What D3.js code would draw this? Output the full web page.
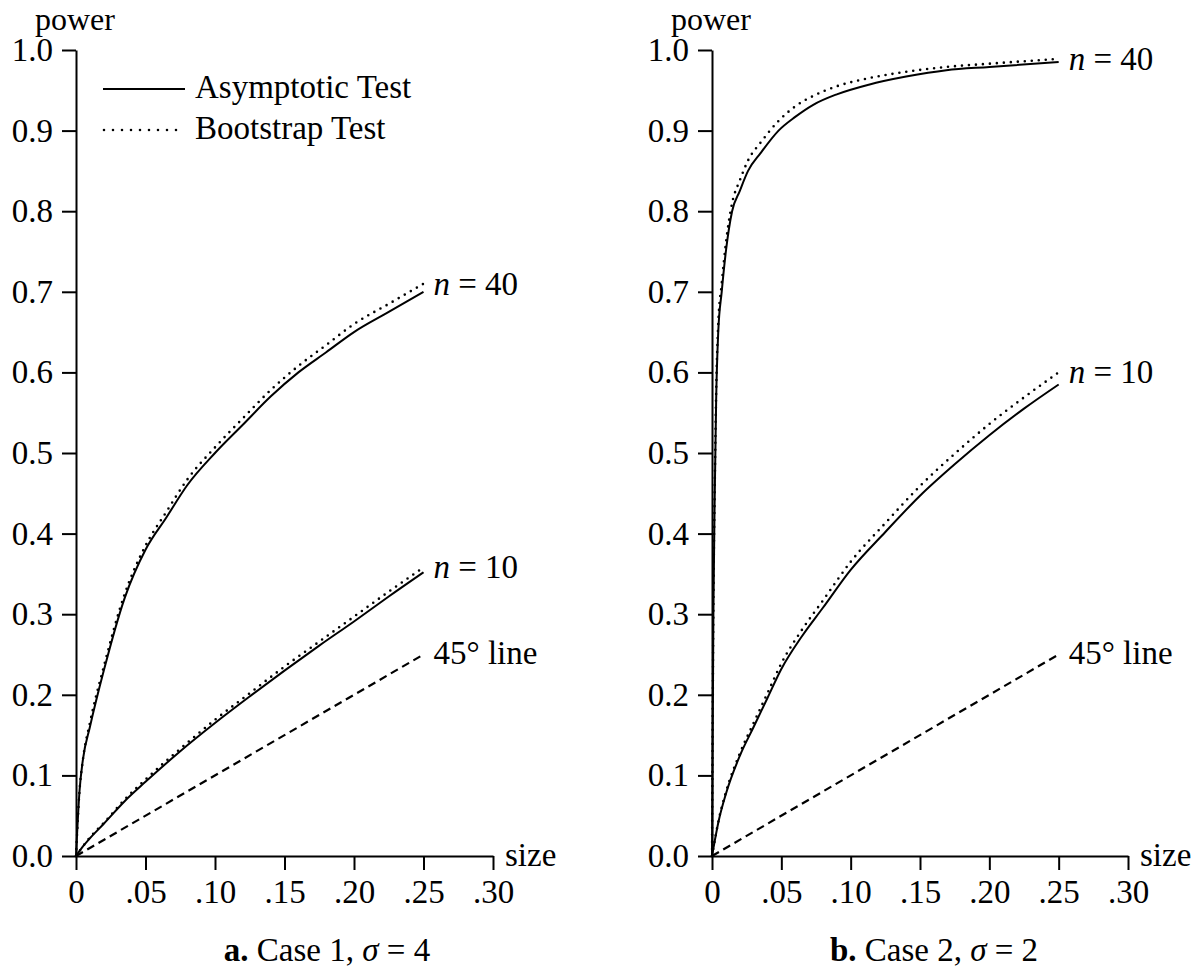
<!DOCTYPE html>
<html>
<head>
<meta charset="utf-8">
<script src="https://cdn.jsdelivr.net/npm/d3@7"></script>
<style>
  body { margin: 0; background: #fff; }
  text { font-family: "Liberation Serif", "Times New Roman", serif; fill: #000; }
</style>
</head>
<body>
<script>
// axis ticks
var yTicks = [0, 0.1, 0.2, 0.3, 0.4, 0.5, 0.6, 0.7, 0.8, 0.9, 1.0];
var yTickLabels = ["0.0", "0.1", "0.2", "0.3", "0.4", "0.5", "0.6", "0.7", "0.8", "0.9", "1.0"];
var xTicks = [0, 0.05, 0.10, 0.15, 0.20, 0.25, 0.30];
var xTickLabels = ["0", ".05", ".10", ".15", ".20", ".25", ".30"];

// panel a: case 1, sigma = 4
var a40Size = [0, .0025, .005, .01, .02, .035, .05, .065, .08, .10, .12, .14, .16, .18, .20, .225, .25];
var a40Asym = [0, .08, .12, .16, .23, .32, .38, .42, .46, .50, .535, .57, .60, .625, .65, .675, .70];
var a40Boot = [0, .08, .12, .165, .235, .325, .385, .427, .467, .507, .543, .578, .608, .634, .66, .685, .71];

var a10Size = [0, .005, .01, .02, .035, .05, .075, .10, .125, .15, .175, .20, .225, .25];
var a10Asym = [0, .012, .022, .04, .068, .092, .13, .165, .198, .23, .261, .291, .322, .352];
var a10Boot = [0, .012, .023, .041, .07, .095, .133, .169, .202, .235, .266, .297, .328, .358];

// panel b: case 2, sigma = 2
var b40Size = [0, .001, .002, .003, .0045, .007, .01, .0145, .02, .026, .035, .048, .06, .073, .09, .113, .14, .169, .20, .25];
var b40Asym = [0, .30, .45, .566, .65, .70, .75, .80, .825, .85, .872, .90, .917, .932, .945, .957, .967, .975, .979, .985];
var b40Boot = [0, .31, .46, .575, .66, .71, .76, .81, .838, .863, .885, .912, .93, .943, .955, .965, .973, .979, .983, .989];

var b10Size = [0, .005, .01, .02, .03, .04, .05, .065, .08, .10, .125, .15, .175, .20, .225, .25];
var b10Asym = [0, .045, .077, .124, .16, .196, .232, .273, .308, .355, .402, .447, .486, .522, .555, .585];
var b10Boot = [0, .046, .079, .127, .165, .202, .239, .281, .317, .365, .413, .459, .499, .536, .569, .60];

// 45 degree reference line
var diagSize = [0, 0.25];
var diagPower = [0, 0.25];

var fontSize = 33;

var svg = d3.select("body").append("svg")
  .attr("width", 1203)
  .attr("height", 972);

function zip(xs, ys) {
  return xs.map(function(d, i) { return {s: d, p: ys[i]}; });
}

function drawPanel(p) {
  var x = d3.scaleLinear().domain([0, 0.30]).range([p.left, p.right]);
  var y = d3.scaleLinear().domain([0, 1]).range([856, 50]);

  var line = d3.line()
    .x(function(d) { return x(d.s); })
    .y(function(d) { return y(d.p); })
    .curve(d3.curveMonotoneX);

  var g = svg.append("g");

  //y axis
  var ya = g.append("g")
    .attr("transform", "translate(" + p.left + ",0)")
    .call(d3.axisLeft(y).tickValues(yTicks)
      .tickFormat(function(d, i) { return yTickLabels[i]; })
      .tickSizeInner(14).tickSizeOuter(0).tickPadding(9));

  //x axis
  var xa = g.append("g")
    .attr("transform", "translate(0," + y(0) + ")")
    .call(d3.axisBottom(x).tickValues(xTicks)
      .tickFormat(function(d, i) { return xTickLabels[i]; })
      .tickSizeInner(14).tickSizeOuter(0).tickPadding(10));

  [ya, xa].forEach(function(a) {
    a.attr("font-family", null).attr("font-size", null);
    a.selectAll("path, line").attr("stroke", "#000").attr("stroke-width", 2);
    a.selectAll("text").style("font-size", fontSize + "px");
  });

  g.append("text")
    .attr("x", p.left - 41)
    .attr("y", 30)
    .style("font-size", (fontSize - 1) + "px")
    .text("power");

  g.append("text")
    .attr("x", p.right + 12)
    .attr("y", y(0) + 10)
    .style("font-size", fontSize + "px")
    .text("size");

  //45 degree line
  g.append("path")
    .datum(zip(diagSize, diagPower))
    .attr("fill", "none")
    .attr("stroke", "#000")
    .attr("stroke-width", 2.2)
    .attr("stroke-dasharray", "8,5")
    .attr("d", line);

  p.curves.forEach(function(c) {
    g.append("path")
      .datum(zip(c.size, c.asym))
      .attr("fill", "none")
      .attr("stroke", "#000")
      .attr("stroke-width", 2)
      .attr("d", line);
    g.append("path")
      .datum(zip(c.size, c.boot))
      .attr("fill", "none")
      .attr("stroke", "#000")
      .attr("stroke-width", 2.6)
      .attr("stroke-linecap", "round")
      .attr("stroke-dasharray", "0,7")
      .attr("d", line);

    var last = c.size.length - 1;
    var t = g.append("text")
      .attr("x", x(c.size[last]) + 10)
      .attr("y", y(c.boot[last]) + 11)
      .style("font-size", fontSize + "px");
    t.append("tspan").style("font-style", "italic").text("n");
    t.append("tspan").text(" = " + c.n);
  });

  var last45 = diagSize.length - 1;
  g.append("text")
    .attr("x", x(diagSize[last45]) + 10)
    .attr("y", y(diagPower[last45]) + 9)
    .style("font-size", fontSize + "px")
    .text("45° line");

  //caption
  var cap = g.append("text")
    .attr("x", p.captionX)
    .attr("y", 961)
    .attr("text-anchor", "middle")
    .style("font-size", fontSize + "px");
  cap.append("tspan").style("font-weight", "bold").text(p.tag);
  cap.append("tspan").text(" " + p.caseName + ", ");
  cap.append("tspan").style("font-style", "italic").text("σ");
  cap.append("tspan").text(" = " + p.sigma);

  //legend
  if (p.legend) {
    g.append("line")
      .attr("x1", 103).attr("x2", 185)
      .attr("y1", 89).attr("y2", 89)
      .attr("stroke", "#000").attr("stroke-width", 2);
    g.append("line")
      .attr("x1", 104).attr("x2", 185)
      .attr("y1", 130).attr("y2", 130)
      .attr("stroke", "#000").attr("stroke-width", 2.6)
      .attr("stroke-linecap", "round")
      .attr("stroke-dasharray", "0,9");
    g.append("text").attr("x", 195).attr("y", 98)
      .style("font-size", fontSize + "px").text("Asymptotic Test");
    g.append("text").attr("x", 195).attr("y", 139)
      .style("font-size", fontSize + "px").text("Bootstrap Test");
  }
}

drawPanel({
  left: 76, right: 493, captionX: 327, legend: true,
  tag: "a.", caseName: "Case 1", sigma: 4,
  curves: [
    {n: 40, size: a40Size, asym: a40Asym, boot: a40Boot},
    {n: 10, size: a10Size, asym: a10Asym, boot: a10Boot}
  ]
});

drawPanel({
  left: 712, right: 1128, captionX: 934, legend: false,
  tag: "b.", caseName: "Case 2", sigma: 2,
  curves: [
    {n: 40, size: b40Size, asym: b40Asym, boot: b40Boot},
    {n: 10, size: b10Size, asym: b10Asym, boot: b10Boot}
  ]
});
</script>
</body>
</html>
